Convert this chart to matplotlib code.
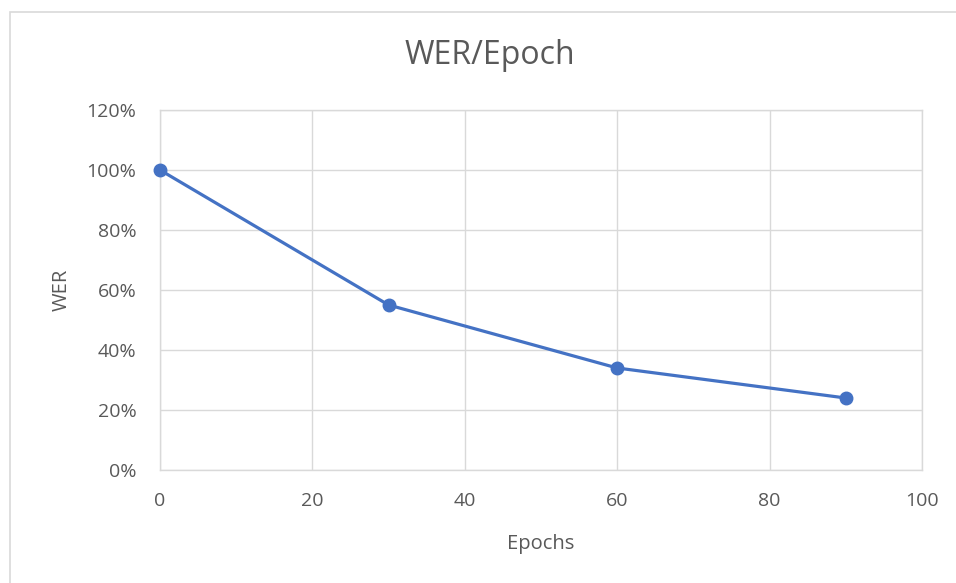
import matplotlib.pyplot as plt
from matplotlib.patches import Rectangle
from matplotlib.ticker import FuncFormatter

plt.rcParams['font.family'] = ['Open Sans', 'DejaVu Sans']

# WER per epoch
epochs = [0, 30, 60, 90]
wer = [1.00, 0.55, 0.34, 0.24]

x_ticks = [0, 20, 40, 60, 80, 100]
y_ticks = [0, 0.2, 0.4, 0.6, 0.8, 1.0, 1.2]

text_color = '#595959'
grid_color = '#d9d9d9'

fig = plt.figure(figsize=(9.56, 5.83), dpi=100)
ax = fig.add_axes([160/956, 1 - 470/583, (922 - 160)/956, (470 - 110)/583])

# chart border (runs off the right and bottom edges)
fig.patches.append(Rectangle((10/956, -0.1), 1.1, 1 - 12/583 + 0.1,
                             transform=fig.transFigure, fill=False,
                             edgecolor='#d9d9d9', linewidth=1.2))

ax.plot(epochs, wer, color='#4472C4', linewidth=2.3, marker='o',
        markersize=9, zorder=3, clip_on=False)

ax.set_xlim(0, 100)
ax.set_ylim(0, 1.2)
ax.set_xticks(x_ticks)
ax.set_yticks(y_ticks)
ax.yaxis.set_major_formatter(FuncFormatter(lambda v, p: f'{round(v*100)}%'))
ax.grid(True, color=grid_color, linewidth=1)
ax.set_axisbelow(True)
for s in ax.spines.values():
    s.set_color(grid_color)
    s.set_linewidth(1)
ax.tick_params(length=0, labelsize=14, colors=text_color)
ax.tick_params(axis='y', pad=17)
ax.tick_params(axis='x', pad=16)

ax.set_xlabel('Epochs', fontsize=14.5, color=text_color, labelpad=17)
ax.set_ylabel('WER', fontsize=14.5, color=text_color, labelpad=11)

fig.text(490/956, 1 - 56/583, 'WER/Epoch', ha='center', va='center',
         fontsize=23, color=text_color)

fig.savefig('out.png', dpi=100)
